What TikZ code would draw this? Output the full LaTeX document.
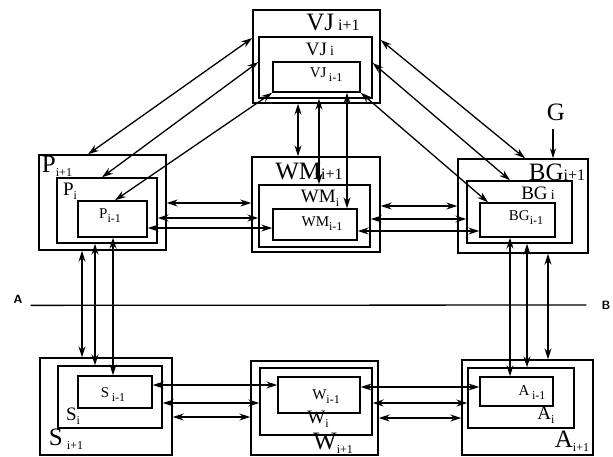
\documentclass[tikz,border=0pt]{standalone}
\usepackage{fontspec}
\setmainfont{Liberation Serif}
\usetikzlibrary{arrows.meta}

\newcommand{\lowidx}[1]{\raisebox{-4pt}{\fontsize{12}{12}\selectfont #1}}
\newcommand{\hiidx}[1]{{\fontsize{16}{16}\selectfont #1}}

\begin{document}
\begin{tikzpicture}
          [x=1pt,y=-1pt,
          box/.style={draw=black,line width=1.4pt,inner sep=0pt},
          lblbig/.style={font=\fontsize{25}{25}\selectfont,inner sep=0pt},
          lblmid/.style={font=\fontsize{19}{19}\selectfont,inner sep=0pt},
          lblsmall/.style={font=\fontsize{15}{15}\selectfont,inner sep=0pt},
          lblab/.style={font=\sffamily\bfseries\fontsize{12}{12}\selectfont,inner sep=0pt},
          arc/.style={<->,>={Stealth[length=11pt,width=7pt]},line width=1.3pt},
          single/.style={->,>={Stealth[length=10pt,width=6pt]},line width=1.3pt},
          edge/.style={line width=1.3pt}]

            \useasboundingbox (0,0) rectangle (613,456);

            % boxes, outer to inner
            \node (VJ3) [box,minimum width=127,minimum height=93] at (316.5,56.5) {};
            \node (VJ2) [box,minimum width=113,minimum height=61] at (315.5,67.5) {};
            \node (VJ1) [box,minimum width=87,minimum height=30] at (316.5,77) {};

            \node (P3) [box,minimum width=127,minimum height=95] at (102.5,202.5) {};
            \node (P2) [box,minimum width=100,minimum height=65] at (107,210.5) {};
            \node (P1) [box,minimum width=69,minimum height=36] at (112.5,219) {};

            \node (WM3) [box,minimum width=128,minimum height=95] at (316,204.5) {};
            \node (WM2) [box,minimum width=111,minimum height=62] at (314.5,216) {};
            \node (WM1) [box,minimum width=84,minimum height=31] at (315,224.5) {};

            \node (BG3) [box,minimum width=130,minimum height=94] at (523,206) {};
            \node (BG2) [box,minimum width=105,minimum height=62] at (519.5,212) {};
            \node (BG1) [box,minimum width=75,minimum height=34] at (517.5,220) {};

            \node (S3) [box,minimum width=132,minimum height=97] at (106,406.5) {};
            \node (S2) [box,minimum width=104,minimum height=62] at (110,397) {};
            \node (S1) [box,minimum width=74,minimum height=32] at (115,392) {};

            \node (W3) [box,minimum width=127,minimum height=94] at (314.5,408) {};
            \node (W2) [box,minimum width=112,minimum height=67] at (316,401.5) {};
            \node (W1) [box,minimum width=82,minimum height=36] at (319,395) {};

            \node (A3) [box,minimum width=131,minimum height=95] at (527.5,407.5) {};
            \node (A2) [box,minimum width=106,minimum height=60] at (521,398) {};
            \node (A1) [box,minimum width=73,minimum height=29] at (516.5,391.5) {};

            % labels
            \node (lVJ3) [lblbig] at (333,22) {VJ\,\hiidx{i+1}};
            \node (lVJ2) [lblmid] at (320,49) {VJ\,{\fontsize{14}{14}\selectfont i}};
            \node (lVJ1) [lblsmall] at (326,75) {VJ\,\lowidx{i-1}};

            \node (lP3) [lblbig] at (57,166) {P\lowidx{i+1}};
            \node (lP2) [lblmid] at (70,191) {P\lowidx{i}};
            \node (lP1) [lblsmall] at (110,216) {P\lowidx{i-1}};

            \node (lWM3) [lblbig] at (309,171) {WM\hiidx{i+1}};
            \node (lWM2) [lblmid] at (320,198) {WM\lowidx{i}};
            \node (lWM1) [lblsmall] at (322,224) {WM\lowidx{i-1}};

            \node (lBG3) [lblbig] at (557,172) {BG\hiidx{i+1}};
            \node (lBG2) [lblmid] at (538,193) {BG\,{\fontsize{14}{14}\selectfont i}};
            \node (lBG1) [lblsmall] at (526,218) {BG\lowidx{i-1}};

            \node (lS3) [lblbig] at (66,439) {S\,\lowidx{i+1}};
            \node (lS2) [lblmid] at (73,416) {S\lowidx{i}};
            \node (lS1) [lblsmall] at (113,395) {S\,\lowidx{i-1}};

            \node (lW1) [lblsmall] at (326,397) {W\lowidx{i-1}};
            \node (lW2) [lblmid] at (318,419) {W\lowidx{i}};
            \node (lW3) [lblbig] at (333,443) {W\lowidx{i+1}};

            \node (lA1) [lblsmall] at (532,393) {A\,\lowidx{i-1}};
            \node (lA2) [lblmid] at (546,415) {A\lowidx{i}};
            \node (lA3) [lblbig] at (572,441) {A\lowidx{i+1}};

            \node (G) [lblbig] at (556,112) {G};
            \node (lA) [lblab] at (18,299) {A};
            \node (lB) [lblab] at (606,305) {B};

            % cut line
            \draw [edge] ([xshift=8pt,yshift=-2pt]lA.south east) to ([xshift=-15pt]lB.west);

            % VJ -- P
            \draw [arc] ([xshift=-14.5pt]P3.north) to ([yshift=18.5pt]VJ3.west);
            \draw [arc] ([xshift=-5pt]P2.north) to ([yshift=5.5pt]VJ2.west);
            \draw [arc] ([xshift=2.5pt]P1.north) to (VJ1.south west);

            % VJ -- BG
            \draw [arc] ([yshift=16.5pt]VJ3.east) to ([xshift=2pt]BG3.north);
            \draw [arc] ([yshift=4.5pt]VJ2.east) to ([xshift=-9.5pt]BG2.north);
            \draw [arc] (VJ1.south east) to ([xshift=-29.5pt]BG1.north);

            % VJ -- WM
            \draw [arc] ([xshift=-18.5pt]VJ3.south) to ([xshift=-18pt]WM3.north);
            \draw [arc] ([xshift=3.5pt]VJ2.south) to ([xshift=4.5pt]WM2.north);
            \draw [arc] ([xshift=30.5pt]VJ1.south) to ([xshift=32pt]WM1.north);

            % P -- WM
            \draw [arc] ([yshift=-0.5pt]P3.east) to ([yshift=1.5pt]WM3.west);
            \draw [arc] ([yshift=-7.5pt]P2.east) to ([yshift=-2pt]WM2.west);
            \draw [arc] ([yshift=-9pt]P1.east) to ([yshift=-3.5pt]WM1.west);

            % WM -- BG
            \draw [arc] ([yshift=-1.5pt]WM3.east) to (BG3.west);
            \draw [arc] ([yshift=-3pt]WM2.east) to ([yshift=-7pt]BG2.west);
            \draw [arc] ([yshift=-6.5pt]WM1.east) to ([yshift=-11pt]BG1.west);

            % P -- S
            \draw [arc] ([xshift=-20.5pt]P3.south) to ([xshift=-24pt]S3.north);
            \draw [arc] ([xshift=-12pt]P2.south) to ([xshift=-15pt]S2.north);
            \draw [arc] ([xshift=0.5pt]P1.south) to ([xshift=-2pt]S1.north);

            % BG -- A
            \draw [arc] ([xshift=-7.5pt]BG1.south) to ([xshift=-6.5pt]A1.north);
            \draw [arc] ([xshift=7.5pt]BG2.south) to ([xshift=6pt]A2.north);
            \draw [arc] ([xshift=25pt]BG3.south) to ([xshift=20.5pt]A3.north);

            % S -- W
            \draw [arc] ([yshift=7pt]S1.east) to ([yshift=10pt]W1.west);
            \draw [arc] ([yshift=-6pt]S2.east) to ([yshift=-1.5pt]W2.west);
            \draw [arc] ([yshift=-10.5pt]S3.east) to ([yshift=-9pt]W3.west);

            % W -- A
            \draw [arc] ([yshift=8pt]W1.east) to ([yshift=4.5pt]A1.west);
            \draw [arc] ([yshift=-1.5pt]W2.east) to ([yshift=-5pt]A2.west);
            \draw [arc] ([yshift=-10pt]W3.east) to ([yshift=-10.5pt]A3.west);

            % G
            \draw [single] ([xshift=-3pt,yshift=-8pt]G.south) to ([xshift=30pt]BG3.north);

        \end{tikzpicture}
\end{document}
